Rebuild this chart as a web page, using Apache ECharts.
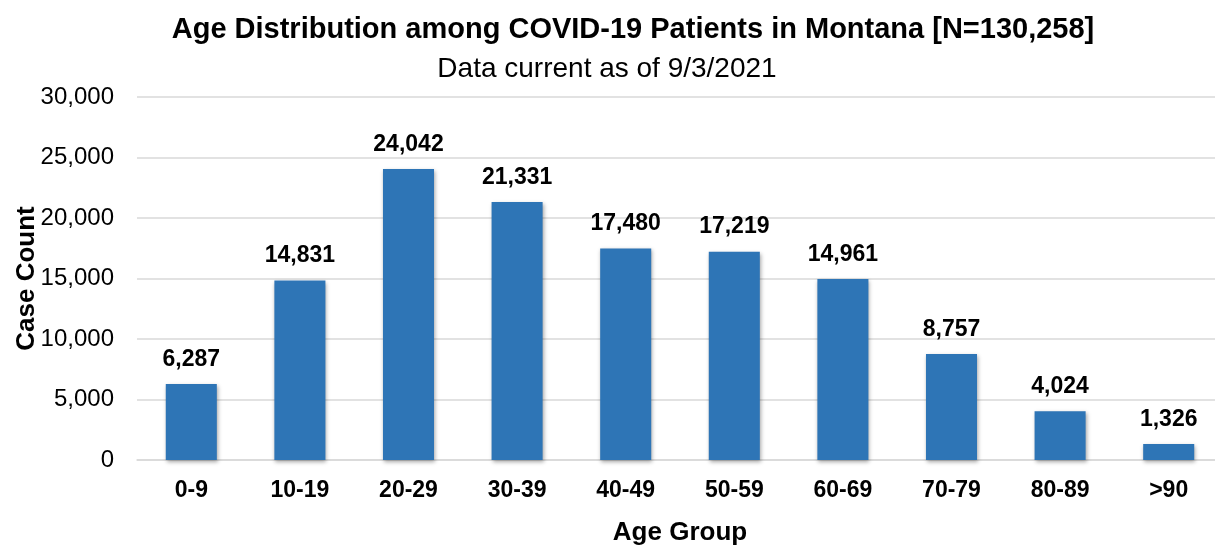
<!DOCTYPE html>
<html>
<head>
<meta charset="utf-8">
<script src="https://cdn.jsdelivr.net/npm/echarts@6/dist/echarts.min.js"></script>
<style>
  html, body { margin: 0; padding: 0; background: #fff; }
  #chart { width: 1215px; height: 548px; }
</style>
</head>
<body>
<div id="chart"></div>
<script>
// age groups and case counts (as of 9/3/2021)
const ageGroups = ['0-9', '10-19', '20-29', '30-39', '40-49', '50-59', '60-69', '70-79', '80-89', '>90']
const caseCounts = [6287, 14831, 24042, 21331, 17480, 17219, 14961, 8757, 4024, 1326]

const FONT = '"Liberation Sans", Arial, sans-serif'
const fmt = v => v.toLocaleString('en-US')

const chart = echarts.init(document.getElementById('chart'), null, { renderer: 'canvas' })

chart.setOption({
  animation: false,
  backgroundColor: '#fff',
  title: [
    {
      text: 'Age Distribution among COVID-19 Patients in Montana [N=130,258]',
      left: 628, top: 10, textAlign: 'center',
      textStyle: { fontFamily: FONT, fontSize: 29, fontWeight: 'bold', color: '#000' }
    },
    {
      text: 'Data current as of 9/3/2021',
      left: 602, top: 50, textAlign: 'center',
      textStyle: { fontFamily: FONT, fontSize: 28, fontWeight: 'normal', color: '#000' }
    }
  ],
  // plot runs slightly past the right edge, as in the cropped original
  grid: { left: 137, right: -8, top: 97, bottom: 88, outerBoundsMode: 'none', containLabel: false },
  xAxis: {
    type: 'category',
    data: ageGroups,
    name: 'Age Group',
    nameLocation: 'middle',
    nameGap: 60,
    nameMoveOverlap: false,
    nameTextStyle: { fontFamily: FONT, fontSize: 26, fontWeight: 'bold', color: '#000' },
    axisLine: { lineStyle: { color: '#d9d9d9', width: 1.5 } },
    axisTick: { show: false },
    axisLabel: { fontFamily: FONT, fontSize: 23, fontWeight: 'bold', color: '#000', margin: 19 }
  },
  yAxis: {
    type: 'value',
    min: 0, max: 30000, interval: 5000,
    name: 'Case Count',
    nameLocation: 'middle',
    nameGap: 97,
    nameMoveOverlap: false,
    nameTextStyle: { fontFamily: FONT, fontSize: 26, fontWeight: 'bold', color: '#000' },
    axisLine: { show: false },
    axisTick: { show: false },
    axisLabel: { fontFamily: FONT, fontSize: 24, color: '#000', margin: 23, formatter: fmt },
    splitLine: { lineStyle: { color: '#d9d9d9', width: 1.5 } }
  },
  series: [
    {
      type: 'bar',
      data: caseCounts,
      barWidth: '47%',
      itemStyle: {
        color: '#2e75b6',
        shadowColor: 'rgba(0,0,0,0.35)',
        shadowBlur: 4,
        shadowOffsetX: 1,
        shadowOffsetY: 2
      },
      label: {
        show: true,
        position: 'top',
        distance: 13,
        formatter: p => fmt(p.value),
        fontFamily: FONT, fontSize: 23, fontWeight: 'bold', color: '#000'
      }
    }
  ]
})
</script>
</body>
</html>
